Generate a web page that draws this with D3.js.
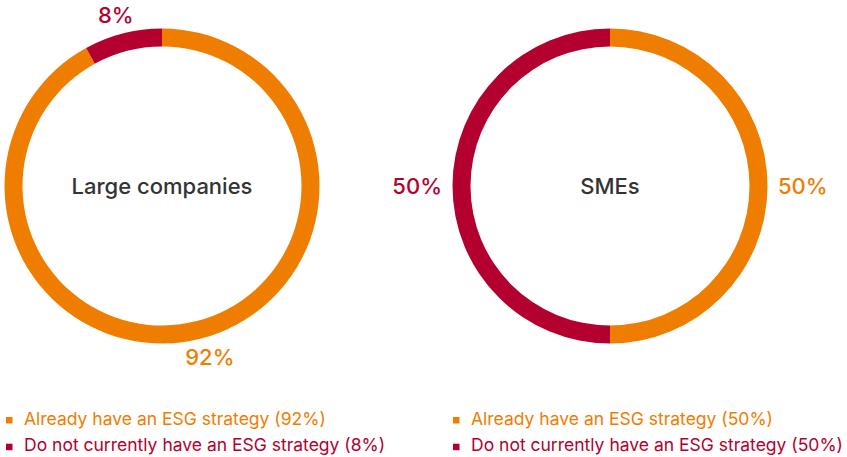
<!DOCTYPE html>
<html><head><meta charset="utf-8">
<script src="https://cdn.jsdelivr.net/npm/d3@7"></script>
<style>
html,body{margin:0;padding:0;background:#fff;}
svg{display:block;font-family:Inter,"Liberation Sans",Arial,sans-serif;}
</style></head>
<body><svg id="chart" width="847" height="457"></svg>
<script>
const groups = ["Large companies", "SMEs"];
const categories = ["Already have an ESG strategy", "Do not currently have an ESG strategy"];
const largeValues = [92, 8];
const smeValues = [50, 50];
const colors = ["#EF7D00", "#B4002E"];

const seriesList = [largeValues, smeValues];
const svg = d3.select("#chart");
const outerR = 157.5, innerR = 139.5;
const cy = 186;
const xCenter = d3.scalePoint().domain(groups).range([162, 610]);
const legendX = d3.scalePoint().domain(groups).range([6, 453]);
const legendY = d3.scalePoint().domain(categories).range([420.5, 447.2]);

const pie = d3.pie().sort(null).value(d => d);
const arc = d3.arc().innerRadius(innerR).outerRadius(outerR);

groups.forEach((g, gi) => {
  const vals = seriesList[gi];
  const cx = xCenter(g);
  const G = svg.append("g").attr("transform", `translate(${cx},${cy})`);
  const arcs = pie(vals);
  G.selectAll("path").data(arcs).join("path")
    .attr("d", arc).attr("fill", (d, i) => colors[i]);
  G.append("text").text(g)
    .attr("text-anchor", "middle").attr("y", 8)
    .attr("font-size", 22).attr("font-weight", 500).attr("fill", "#333");
  // value labels
  const labelR = outerR + 10.5;
  G.selectAll("text.val").data(arcs).join("text").attr("class", "val")
    .each(function(d, i) {
      const a = (d.startAngle + d.endAngle) / 2;
      const s = Math.sin(a), c = Math.cos(a);
      const el = d3.select(this);
      el.text(vals[i] + "%")
        .attr("fill", colors[i])
        .attr("font-size", 22).attr("font-weight", 500)
        .attr("text-anchor", "middle");
      const w = this.getComputedTextLength();
      el.attr("x", s * (labelR + w / 2))
        .attr("y", -c * labelR - c * 8.5 + 8);
    });
  // legend
  const L = svg.append("g");
  categories.forEach((cat, ci) => {
    const ly = legendY(cat);
    L.append("rect").attr("x", legendX(g)).attr("y", ly - 3.5)
      .attr("width", 6.5).attr("height", 6.5).attr("fill", colors[ci]);
    L.append("text").attr("x", legendX(g) + 18).attr("y", ly + 4)
      .attr("font-size", 17.5).attr("fill", colors[ci])
      .text(`${cat} (${vals[ci]}%)`);
  });
});
</script></body></html>
